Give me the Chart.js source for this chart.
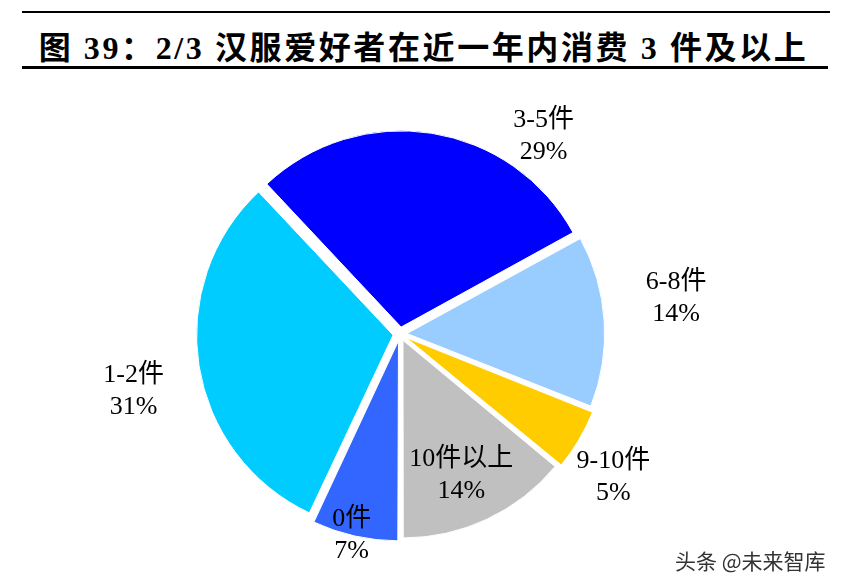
<!DOCTYPE html>
<html>
<head>
<meta charset="utf-8">
<script src="https://cdn.jsdelivr.net/npm/chart.js@4"></script>
<style>
    html, body { margin: 0; padding: 0; background: #fff; }
    #wrap { position: relative; width: 847px; height: 588px; overflow: hidden; }
    #topRule { position: absolute; left: 22px; top: 11px; width: 808px; height: 2px; background: #000; }
    #title {
        position: absolute; left: 0; width: 847px; top: 22px; text-align: center;
        font: bold 32px "Liberation Serif", "Noto Sans CJK SC", serif; color: #000; white-space: nowrap;
        letter-spacing: 2.6px;
    }
    #bottomRule { position: absolute; left: 22px; top: 66px; width: 806px; height: 3px; background: #000; }
    #mark {
        position: absolute; left: 675px; top: 545px;
        font: 21px "Noto Sans CJK SC", sans-serif; color: #333;
        text-shadow: 0 0 2px #fff, 0 0 2px #fff;
    }
    canvas { position: absolute; left: 0; top: 0; }
</style>
</head>
<body>
<div id="wrap">
    <div id="topRule"></div>
    <div id="title">图 39：2/3 汉服爱好者在近一年内消费 3 件及以上</div>
    <div id="bottomRule"></div>
    <canvas id="pie" width="847" height="588"></canvas>
    <div id="mark">头条 @未来智库</div>
</div>
<script>
    // Chart data
    const categories = ['0件', '1-2件', '3-5件', '6-8件', '9-10件', '10件以上'];
    const shares = [7, 31, 29, 14, 5, 14];
    const sliceColors = ['#3366FF', '#00CCFF', '#0000FF', '#99CCFF', '#FFCC00', '#C0C0C0'];

    // Label placement: angle (deg, clockwise from top) and distance as a share of the radius
    const labelAngles = [193.5, 257.9, 36.0, 82.7, 123.8, 156.5];
    const labelDistances = [1.056, 1.39, 1.246, 1.42, 1.31, 0.785];

    // Draws the two-line labels (name and percentage) around the pie
    const sliceLabels = {
        id: 'sliceLabels',
        afterDatasetsDraw(chart) {
            const ctx = chart.ctx;
            const arcs = chart.getDatasetMeta(0).data;
            ctx.save();
            ctx.fillStyle = '#000';
            ctx.font = '26px "Liberation Serif", "Noto Sans CJK SC", serif';
            ctx.textAlign = 'center';
            ctx.textBaseline = 'middle';
            arcs.forEach((arc, i) => {
                const r = arc.outerRadius * labelDistances[i];
                const a = labelAngles[i] * Math.PI / 180;
                const x = arc.x + r * Math.sin(a);
                const y = arc.y - r * Math.cos(a);
                ctx.fillText(categories[i], x, y - 16);
                ctx.fillText(shares[i] + '%', x, y + 16);
            });
            ctx.restore();
        }
    };

    new Chart(document.getElementById('pie'), {
        type: 'pie',
        data: {
            labels: categories,
            datasets: [{
                data: shares,
                backgroundColor: sliceColors,
                borderColor: '#fff',
                borderWidth: 1,
                offset: 28
            }]
        },
        options: {
            responsive: false,
            animation: false,
            rotation: 180,
            radius: 196,
            layout: { padding: { left: 100, right: 147, top: 120, bottom: 40 } },
            plugins: {
                legend: { display: false },
                tooltip: { enabled: false }
            }
        },
        plugins: [sliceLabels]
    });
</script>
</body>
</html>
